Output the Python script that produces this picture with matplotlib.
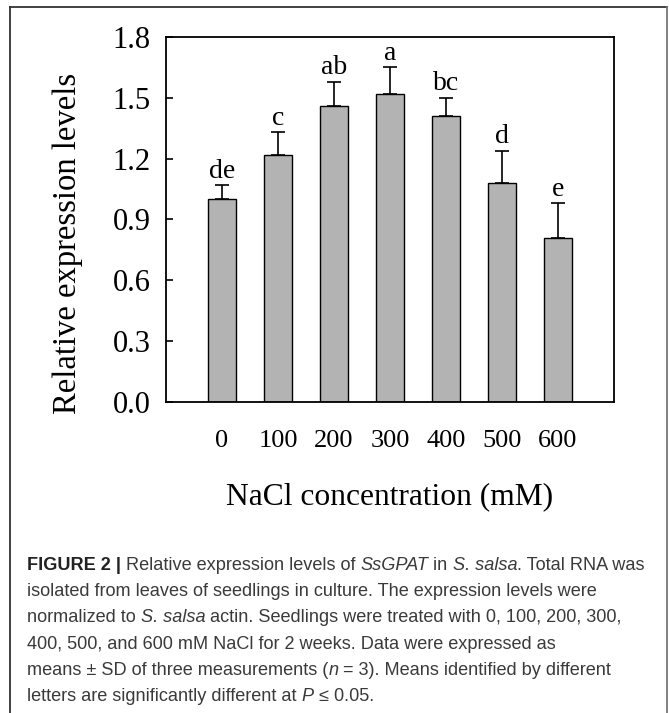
import numpy as np
import matplotlib
matplotlib.use("Agg")
import matplotlib.pyplot as plt
from matplotlib.lines import Line2D

# data
conc = ["0", "100", "200", "300", "400", "500", "600"]
expr = [1.00, 1.22, 1.46, 1.52, 1.41, 1.08, 0.81]
sd = [0.07, 0.11, 0.12, 0.13, 0.09, 0.16, 0.17]
letters = ["de", "c", "ab", "a", "bc", "d", "e"]
yticks = [0.0, 0.3, 0.6, 0.9, 1.2, 1.5, 1.8]

caption = [
    [("FIGURE 2 | ", "bold", "normal"), ("Relative expression levels of ", "normal", "normal"),
     ("SsGPAT", "normal", "italic"), (" in ", "normal", "normal"),
     ("S. salsa", "normal", "italic"), (". Total RNA was", "normal", "normal")],
    [("isolated from leaves of seedlings in culture. The expression levels were", "normal", "normal")],
    [("normalized to ", "normal", "normal"), ("S. salsa", "normal", "italic"),
     (" actin. Seedlings were treated with 0, 100, 200, 300,", "normal", "normal")],
    [("400, 500, and 600 mM NaCl for 2 weeks. Data were expressed as", "normal", "normal")],
    [("means \u00b1 SD of three measurements (", "normal", "normal"), ("n", "normal", "italic"),
     (" = 3). Means identified by different", "normal", "normal")],
    [("letters are significantly different at ", "normal", "normal"), ("P", "normal", "italic"),
     (" \u2264 0.05.", "normal", "normal")],
]

W, H = 669, 713
fig = plt.figure(figsize=(W / 100, H / 100), dpi=100)
serif = ["Liberation Serif", "DejaVu Serif"]

ax = fig.add_axes([166 / W, 1 - 402 / H, 448 / W, 365 / H])
x = np.arange(len(conc))
ax.bar(x, expr, width=0.5, color="#b3b3b3", edgecolor="black", linewidth=1.0, zorder=2)
ax.errorbar(x, expr, yerr=[np.zeros(len(sd)), sd], fmt="none", ecolor="black",
            elinewidth=1.2, capsize=5, capthick=1.2, zorder=1)
for xi, m, s, lab in zip(x, expr, sd, letters):
    ax.annotate(lab, (xi, m + s), xytext=(0, 1), textcoords="offset points",
                ha="center", va="bottom", fontsize=20, family=serif)

ax.set_xlim(-1, 7)
ax.set_ylim(0, 1.8)
ax.set_yticks(yticks)
ax.set_yticklabels([f"{t:.1f}" for t in yticks], family=serif, fontsize=22)
ax.set_xticks(x)
ax.set_xticklabels(conc, family=serif, fontsize=19)
ax.tick_params(axis="y", direction="in", length=5, width=1.2, pad=11)
ax.tick_params(axis="x", length=0, pad=20)
for sp in ax.spines.values():
    sp.set_linewidth(1.3)

fig.text(68 / W, 1 - 243 / H, "Relative expression levels", rotation=90,
         ha="center", va="center", fontsize=23.5, family=serif)
fig.text(390 / W, 1 - 497 / H, "NaCl concentration (mM)",
         ha="center", va="center", fontsize=22.7, family=serif)

# frame around the figure panel
fig.add_artist(Line2D([10 / W, 10 / W], [0, 1 - 7 / H], color="#333333", lw=1.3))
fig.add_artist(Line2D([10 / W, 667 / W], [1 - 7 / H, 1 - 7 / H], color="#333333", lw=1.3))
fig.add_artist(Line2D([667 / W, 667 / W], [0, 1 - 7 / H], color="#777777", lw=1.3))

# caption, drawn piece by piece so bold/italic runs line up
fig.canvas.draw()
renderer = fig.canvas.get_renderer()
sans = ["Liberation Sans", "DejaVu Sans"]
y0, dy = 570, 26.2
for i, line in enumerate(caption):
    xpos = 27 / W
    for txt, weight, style in line:
        t = fig.text(xpos, 1 - (y0 + i * dy) / H, txt, ha="left", va="baseline",
                     fontsize=13.1, family=sans, weight=weight, style=style,
                     color="#222222" if weight == "bold" else "#3a3a3a")
        bb = t.get_window_extent(renderer)
        xpos = bb.x1 / W

fig.savefig("out.png", dpi=100)
